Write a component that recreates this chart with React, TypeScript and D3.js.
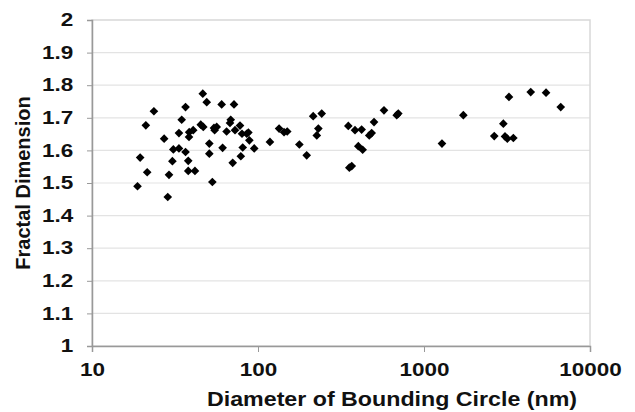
import React, { useEffect, useRef } from 'react';
import * as d3 from 'd3';

// bounding circle diameter (nm) and fractal dimension
const diameters = [
  18.8, 19.5, 21.1, 21.5, 23.6, 27.2, 28.6, 29.1, 30.5, 30.9,
  33.4, 33.4, 34.7, 36.6, 36.6, 38.0, 38.0, 41.7, 38.4, 38.5,
  40.7, 45.2, 46.5, 46.8, 49.1, 50.9, 50.9, 53.1, 54.3, 56.4,
  54.8, 60.4, 61.2, 64.7, 67.8, 68.5, 70.4, 71.7, 72.7, 77.9,
  78.8, 80.1, 80.9, 85.5, 87.5, 88.7, 94.9, 118, 134, 143.5,
  150, 177.5, 196.5, 215, 242, 231, 226, 350, 384, 421,
  500, 574, 700, 685, 484, 468, 402, 427, 367, 355,
  1726, 1283, 3250, 4395, 5435, 6664, 3006, 2650, 3076, 3177,
  3453
];
const fractalDims = [
  1.490, 1.578, 1.677, 1.533, 1.720, 1.636, 1.457, 1.525, 1.567, 1.603,
  1.606, 1.653, 1.694, 1.733, 1.595, 1.568, 1.537, 1.537, 1.641, 1.656,
  1.662, 1.679, 1.774, 1.672, 1.748, 1.621, 1.590, 1.503, 1.669, 1.672,
  1.662, 1.741, 1.608, 1.658, 1.684, 1.694, 1.562, 1.741, 1.662, 1.676,
  1.582, 1.651, 1.609, 1.651, 1.655, 1.631, 1.606, 1.626, 1.667, 1.656,
  1.658, 1.618, 1.585, 1.705, 1.713, 1.667, 1.646, 1.675, 1.662, 1.664,
  1.687, 1.723, 1.713, 1.708, 1.653, 1.646, 1.613, 1.602, 1.552, 1.547,
  1.708, 1.621, 1.764, 1.779, 1.777, 1.733, 1.682, 1.644, 1.643, 1.636,
  1.638
];
const xTicks = [10, 100, 1000, 10000];
const yTicks = [1, 1.1, 1.2, 1.3, 1.4, 1.5, 1.6, 1.7, 1.8, 1.9, 2];

const App = () => {
  const ref = useRef(null);

  useEffect(() => {
    const width = 635;
    const height = 412;
    const marginLeft = 92;
    const marginRight = 45;
    const marginTop = 20;
    const marginBottom = 66;
    const font = '"Liberation Sans", Arial, sans-serif';
    const stretch = 1.25; // the original figure's text is a bit wide

    const x = d3.scaleLog().domain([10, 10000]).range([marginLeft, width - marginRight]);
    const y = d3.scaleLinear().domain([1, 2]).range([height - marginBottom, marginTop]);

    const svg = d3.select(ref.current);
    svg.selectAll('*').remove();
    svg.attr('width', width).attr('height', height).attr('viewBox', [0, 0, width, height]);

    svg.append('rect')
      .attr('width', width).attr('height', height).attr('fill', 'white');

    // horizontal gridlines
    svg.append('g')
      .selectAll('line')
      .data(yTicks.slice(1, -1))
      .join('line')
      .attr('x1', marginLeft).attr('x2', width - marginRight)
      .attr('y1', d => y(d)).attr('y2', d => y(d))
      .attr('stroke', '#e3e3e3').attr('stroke-width', 1.2);

    // plot area frame
    svg.append('rect')
      .attr('x', marginLeft).attr('y', marginTop)
      .attr('width', width - marginRight - marginLeft)
      .attr('height', height - marginBottom - marginTop)
      .attr('fill', 'none').attr('stroke', '#d8d8d8').attr('stroke-width', 1.5);

    const yAxis = svg.append('g')
      .attr('transform', `translate(${marginLeft},0)`)
      .call(d3.axisLeft(y).tickValues(yTicks).tickSize(5).tickPadding(10)
        .tickFormat(d => d3.format('~g')(d)));
    yAxis.select('.domain').attr('stroke', '#999').attr('stroke-width', 1.5);
    yAxis.selectAll('.tick line').attr('stroke', '#999');
    yAxis.selectAll('text')
      .attr('transform', `scale(${stretch},1)`)
      .attr('font-family', font).attr('font-size', 18).attr('font-weight', 'bold')
      .attr('fill', '#111');

    const xAxis = svg.append('g')
      .attr('transform', `translate(0,${height - marginBottom})`)
      .call(d3.axisBottom(x).tickValues(xTicks).tickSize(6).tickPadding(11)
        .tickFormat(d3.format('d')));
    xAxis.select('.domain').attr('stroke', '#999').attr('stroke-width', 1.5);
    xAxis.selectAll('.tick line').attr('stroke', '#999');
    xAxis.selectAll('text')
      .attr('transform', `scale(${stretch},1)`)
      .attr('font-family', font).attr('font-size', 18).attr('font-weight', 'bold')
      .attr('fill', '#111');

    svg.append('text')
      .attr('x', 392).attr('y', 406)
      .attr('text-anchor', 'middle')
      .attr('textLength', 370).attr('lengthAdjust', 'spacingAndGlyphs')
      .attr('font-family', font).attr('font-size', 20).attr('font-weight', 'bold')
      .attr('fill', '#111')
      .text('Diameter of Bounding Circle (nm)');

    svg.append('text')
      .attr('transform', `translate(30,183) rotate(-90)`)
      .attr('text-anchor', 'middle')
      .attr('font-family', font).attr('font-size', 20).attr('font-weight', 'bold')
      .attr('fill', '#111')
      .text('Fractal Dimension');

    const points = diameters.map((d, i) => ({ d, f: fractalDims[i] }));
    svg.append('g')
      .selectAll('path')
      .data(points)
      .join('path')
      .attr('transform', p => `translate(${x(p.d)},${y(p.f)})`)
      .attr('d', d3.symbol(d3.symbolDiamond2, 48))
      .attr('fill', '#000');
  }, []);

  return <svg ref={ref} style={{ position: 'absolute', left: 0, top: 0 }} />;
};

export default App;
